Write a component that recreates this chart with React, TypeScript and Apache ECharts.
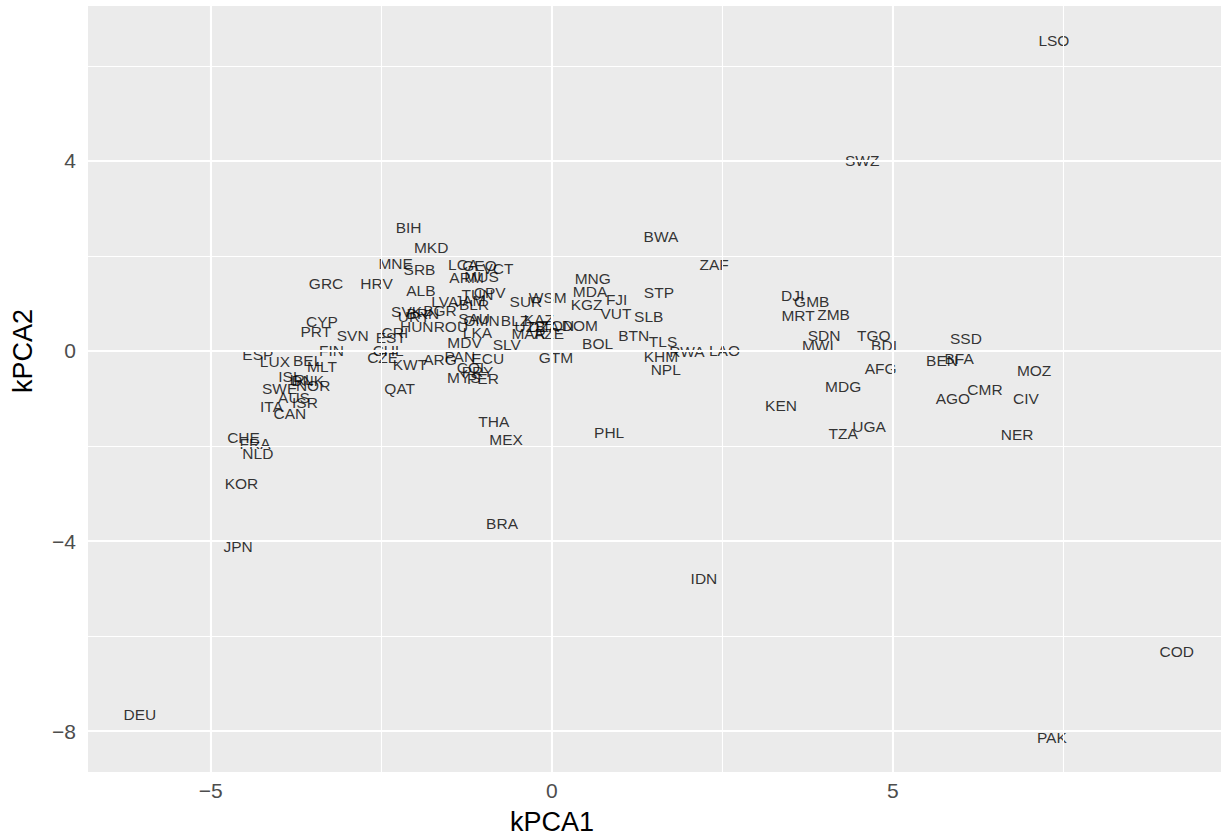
import React, { useEffect, useRef } from "react";
import * as echarts from "echarts";

const countries: string[] = [
  "LSO","SWZ","BIH","MKD","BWA","ZAF","MNE","SRB","LCA","GEO",
  "VCT","ARM","MUS","GRC","HRV","ALB","MNG","MDA","STP","FJI",
  "KGZ","VUT","SLB","DJI","GMB","MRT","ZMB","WSM","SUR","CPV",
  "TUN","JAM","BLR","LVA","SVK","BGR","BRN","URY","HUN","ROU",
  "OMN","SAU","LKA","BLZ","KAZ","UZB","DZA","TON","MAR","AZE",
  "DOM","CYP","PRT","SVN","EST","CRI","FIN","CHL","CZE","KWT",
  "ESP","LUX","BEL","MLT","ISL","IRL","DNK","NOR","SWE","AUS",
  "ISR","ITA","CAN","CHE","FRA","NLD","KOR","JPN","DEU","QAT",
  "MDV","SLV","ARG","PAN","ECU","COL","MYS","PRY","PER","GTM",
  "BOL","BTN","TLS","KHM","RWA","LAO","NPL","PHL","THA","MEX",
  "BRA","IDN","KEN","MDG","AFG","SDN","MWI","TGO","BDI","TZA",
  "UGA","SSD","BEN","BFA","MOZ","AGO","CMR","CIV","NER","COD",
  "PAK"
];

const kpca1: number[] = [
  7.36, 4.55, -2.10, -1.77, 1.60, 2.38, -2.29, -1.94, -1.30, -1.06,
  -0.79, -1.25, -1.03, -3.31, -2.57, -1.92, 0.60, 0.56, 1.57, 0.95,
  0.51, 0.94, 1.42, 3.53, 3.81, 3.61, 4.13, -0.06, -0.38, -0.91,
  -1.09, -1.20, -1.14, -1.57, -2.13, -1.64, -1.89, -2.02, -1.98, -1.48,
  -1.03, -1.14, -1.09, -0.54, -0.19, -0.32, -0.12, 0.09, -0.34, -0.04,
  0.41, -3.37, -3.46, -2.92, -2.36, -2.30, -3.23, -2.40, -2.48, -2.08,
  -4.31, -4.06, -3.58, -3.37, -3.84, -3.67, -3.58, -3.50, -3.99, -3.78,
  -3.62, -4.11, -3.84, -4.52, -4.35, -4.31, -4.55, -4.60, -6.04, -2.23,
  -1.28, -0.66, -1.64, -1.35, -0.94, -1.16, -1.29, -1.09, -1.01, 0.06,
  0.67, 1.20, 1.63, 1.60, 1.98, 2.53, 1.67, 0.84, -0.85, -0.67,
  -0.73, 2.23, 3.36, 4.27, 4.82, 3.99, 3.90, 4.72, 4.87, 4.27,
  4.65, 6.07, 5.72, 5.97, 7.07, 5.88, 6.35, 6.95, 6.82, 9.16,
  7.33
];

const kpca2: number[] = [
  6.53, 4.00, 2.59, 2.17, 2.40, 1.83, 1.85, 1.71, 1.81, 1.79,
  1.73, 1.54, 1.56, 1.43, 1.43, 1.28, 1.52, 1.26, 1.24, 1.09,
  0.97, 0.78, 0.72, 1.16, 1.05, 0.74, 0.76, 1.12, 1.05, 1.24,
  1.18, 1.07, 0.97, 1.05, 0.84, 0.86, 0.78, 0.72, 0.51, 0.51,
  0.65, 0.69, 0.38, 0.65, 0.67, 0.51, 0.51, 0.53, 0.36, 0.36,
  0.53, 0.61, 0.42, 0.32, 0.29, 0.38, 0.00, 0.02, -0.13, -0.29,
  -0.08, -0.23, -0.19, -0.32, -0.53, -0.59, -0.63, -0.72, -0.78, -0.97,
  -1.09, -1.16, -1.31, -1.83, -1.94, -2.15, -2.78, -4.11, -7.66, -0.78,
  0.17, 0.13, -0.17, -0.11, -0.15, -0.34, -0.55, -0.44, -0.57, -0.13,
  0.15, 0.32, 0.19, -0.11, -0.02, 0.00, -0.40, -1.71, -1.49, -1.87,
  -3.64, -4.78, -1.14, -0.74, -0.36, 0.32, 0.11, 0.32, 0.11, -1.73,
  -1.58, 0.27, -0.21, -0.15, -0.42, -1.01, -0.82, -1.01, -1.75, -6.32,
  -8.13
];

const xTicks: number[] = [-5, 0, 5];
const yTicks: number[] = [-8, -4, 0, 4];
const xMajorGrid: number[] = [-5, 0, 5];
const xMinorGrid: number[] = [-2.5, 2.5, 7.5];
const yMajorGrid: number[] = [-8, -4, 0, 4];
const yMinorGrid: number[] = [-6, -2, 2, 6];
const xTitle = "kPCA1";
const yTitle = "kPCA2";

const FONT = "'Liberation Sans', Arial, Helvetica, sans-serif";
const fmt = (v: number) => (v < 0 ? "\u2212" + Math.abs(v) : String(v));

export default function App() {
  const ref = useRef<HTMLDivElement>(null);

  useEffect(() => {
    document.body.style.margin = "0";
    if (!ref.current) return;
    const chart = echarts.init(ref.current, undefined, { renderer: "svg" });

    const gridLines: any[] = [
      ...xMinorGrid.map((v) => ({ xAxis: v, lineStyle: { width: 1.1 } })),
      ...yMinorGrid.map((v) => ({ yAxis: v, lineStyle: { width: 1.1 } })),
      ...xMajorGrid.map((v) => ({ xAxis: v, lineStyle: { width: 2.1 } })),
      ...yMajorGrid.map((v) => ({ yAxis: v, lineStyle: { width: 2.1 } })),
    ];

    const data = countries.map((c, i) => ({ name: c, value: [kpca1[i], kpca2[i]] }));

    chart.setOption({
      animation: false,
      textStyle: { fontFamily: FONT },
      grid: {
        left: 88,
        right: 1,
        top: 6,
        bottom: 67,
        show: true,
        backgroundColor: "#EBEBEB",
        borderWidth: 0,
      },
      graphic: [
        {
          type: "text",
          x: 552,
          y: 822,
          style: {
            text: xTitle,
            fill: "#000000",
            fontSize: 27,
            fontFamily: FONT,
            align: "center",
            verticalAlign: "middle",
          },
        },
        {
          type: "text",
          x: 23,
          y: 351,
          rotation: Math.PI / 2,
          style: {
            text: yTitle,
            fill: "#000000",
            fontSize: 27,
            fontFamily: FONT,
            align: "center",
            verticalAlign: "middle",
          },
        },
      ],
      xAxis: {
        type: "value",
        min: -6.8,
        max: 9.81,
        splitLine: { show: false },
        axisLine: { show: false },
        axisTick: {
          show: true,
          customValues: xTicks,
          length: 6,
          lineStyle: { color: "#333333", width: 1.6 },
        },
        axisLabel: {
          customValues: xTicks,
          formatter: fmt,
          color: "#4D4D4D",
          fontSize: 21,
          margin: 8,
          fontFamily: FONT,
        },
      },
      yAxis: {
        type: "value",
        min: -8.86,
        max: 7.26,
        splitLine: { show: false },
        axisLine: { show: false },
        axisTick: {
          show: true,
          customValues: yTicks,
          length: 6,
          lineStyle: { color: "#333333", width: 1.6 },
        },
        axisLabel: {
          customValues: yTicks,
          formatter: fmt,
          color: "#4D4D4D",
          fontSize: 21,
          margin: 12,
          fontFamily: FONT,
        },
      },
      series: [
        {
          type: "scatter",
          data: [],
          z: 1,
          silent: true,
          markLine: {
            silent: true,
            symbol: "none",
            label: { show: false },
            lineStyle: { color: "#FFFFFF", type: "solid" },
            emphasis: { disabled: true },
            data: gridLines,
          },
        },
        {
          type: "scatter",
          z: 3,
          symbolSize: 0,
          itemStyle: { color: "rgba(0,0,0,0)" },
          silent: true,
          data,
          label: {
            show: true,
            position: "inside",
            formatter: (p: any) => p.name,
            color: "#000000",
            fontSize: 15.5,
            fontFamily: FONT,
            align: "center",
            verticalAlign: "middle",
          },
          labelLayout: { hideOverlap: false },
        },
      ],
    });

    return () => {
      chart.dispose();
    };
  }, []);

  return <div ref={ref} style={{ width: 1222, height: 839 }} />;
}
